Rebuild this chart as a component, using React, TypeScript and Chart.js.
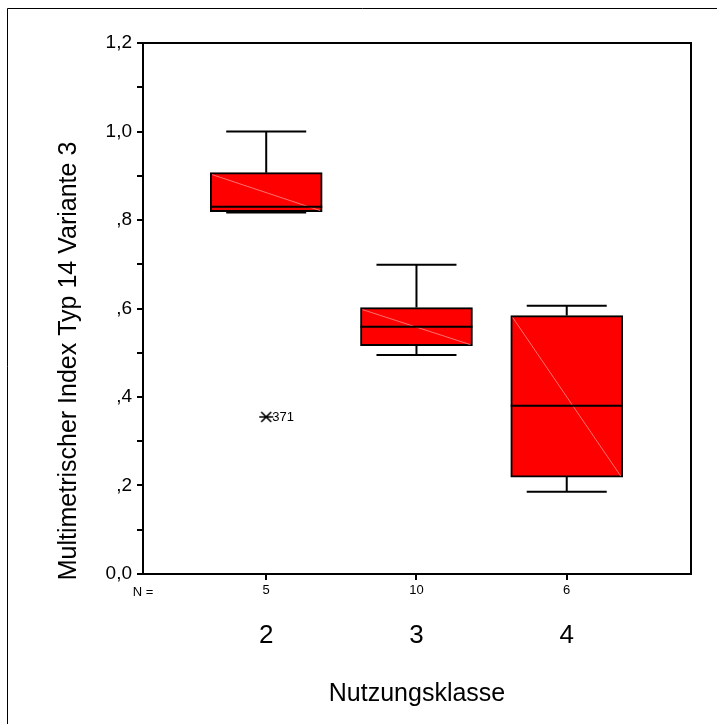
import React, { useEffect, useRef } from "react";
import { Chart, registerables } from "chart.js";

Chart.register(...registerables);

// ---- data ----
const categories = ["2", "3", "4"];
const counts = [5, 10, 6];
const whiskerLow = [0.817, 0.495, 0.186];
const q1 = [0.819, 0.516, 0.219];
const median = [0.830, 0.559, 0.380];
const q3 = [0.907, 0.602, 0.584];
const whiskerHigh = [1.0, 0.699, 0.606];
const outlierCategoryIndex = [0];
const outlierValues = [0.355];
const outlierLabels = ["371"];
const yTickValues = [0, 0.1, 0.2, 0.3, 0.4, 0.5, 0.6, 0.7, 0.8, 0.9, 1.0, 1.1, 1.2];
const yTickLabels = ["0,0", "", ",2", "", ",4", "", ",6", "", ",8", "", "1,0", "", "1,2"];
const yTitle = "Multimetrischer Index Typ 14 Variante 3";
const xTitle = "Nutzungsklasse";

const FONT = "'Liberation Sans', Arial, sans-serif";

function makeAsterisk(): HTMLCanvasElement {
  const c = document.createElement("canvas");
  c.width = 16;
  c.height = 16;
  const g = c.getContext("2d")!;
  g.strokeStyle = "#000";
  g.lineWidth = 1.6;
  g.beginPath();
  g.moveTo(3, 3); g.lineTo(13, 13);
  g.moveTo(13, 3); g.lineTo(3, 13);
  g.moveTo(1, 8); g.lineTo(15, 8);
  g.stroke();
  return c;
}

const extrasPlugin = {
  id: "boxExtras",
  beforeDraw(chart: any) {
    const ctx = chart.ctx;
    ctx.save();
    ctx.fillStyle = "#fff";
    ctx.fillRect(0, 0, chart.width, chart.height);
    ctx.strokeStyle = "#000";
    ctx.lineWidth = 1;
    ctx.beginPath();
    ctx.moveTo(7.5, chart.height);
    ctx.lineTo(7.5, 8.5);
    ctx.lineTo(chart.width, 8.5);
    ctx.stroke();
    ctx.restore();
  },
  afterDatasetsDraw(chart: any) {
    const ctx = chart.ctx;
    const xs = chart.scales.x;
    const ys = chart.scales.y;
    const boxHalf = 56;
    const capHalf = 40;
    ctx.save();
    categories.forEach((_, i) => {
      const x = xs.getPixelForValue(i + 1);
      const yq1 = ys.getPixelForValue(q1[i]);
      const yq3 = ys.getPixelForValue(q3[i]);
      const ymed = ys.getPixelForValue(median[i]);
      const ylo = ys.getPixelForValue(whiskerLow[i]);
      const yhi = ys.getPixelForValue(whiskerHigh[i]);
      // faint diagonal
      ctx.strokeStyle = "rgba(255,140,140,0.8)";
      ctx.lineWidth = 1;
      ctx.beginPath();
      ctx.moveTo(x - boxHalf + 2, yq3 + 2);
      ctx.lineTo(x + boxHalf - 2, yq1 - 1);
      ctx.stroke();
      ctx.strokeStyle = "#000";
      ctx.lineWidth = 2;
      ctx.beginPath();
      ctx.moveTo(x, yq3);
      ctx.lineTo(x, yhi);
      ctx.moveTo(x, yq1);
      ctx.lineTo(x, ylo);
      ctx.moveTo(x - capHalf, yhi);
      ctx.lineTo(x + capHalf, yhi);
      ctx.moveTo(x - capHalf, ylo);
      ctx.lineTo(x + capHalf, ylo);
      ctx.moveTo(x - boxHalf, ymed);
      ctx.lineTo(x + boxHalf, ymed);
      ctx.stroke();
    });
    ctx.fillStyle = "#000";
    ctx.font = `13px ${FONT}`;
    ctx.textAlign = "left";
    ctx.textBaseline = "middle";
    outlierValues.forEach((v, k) => {
      const x = xs.getPixelForValue(outlierCategoryIndex[k] + 1);
      const y = ys.getPixelForValue(v);
      ctx.fillText(outlierLabels[k], x + 6, y + 1);
    });
    ctx.restore();
  },
  afterDraw(chart: any) {
    const ctx = chart.ctx;
    const a = chart.chartArea;
    const xs = chart.scales.x;
    ctx.save();
    ctx.strokeStyle = "#000";
    ctx.lineWidth = 2;
    ctx.strokeRect(a.left, a.top, a.right - a.left, a.bottom - a.top);
    ctx.fillStyle = "#000";
    ctx.font = `13px ${FONT}`;
    ctx.textAlign = "center";
    ctx.textBaseline = "middle";
    ctx.fillText("N =", a.left, a.bottom + 18);
    counts.forEach((n, i) => {
      ctx.fillText(String(n), xs.getPixelForValue(i + 1), a.bottom + 16);
    });
    // y-axis title
    ctx.font = `25px ${FONT}`;
    ctx.translate(69, 361);
    ctx.rotate(-Math.PI / 2);
    ctx.fillText(yTitle, 0, 0);
    ctx.restore();
  },
};

export default function App() {
  const ref = useRef<HTMLCanvasElement | null>(null);

  useEffect(() => {
    if (!ref.current) return;
    const star = makeAsterisk();
    const chart = new Chart(ref.current, {
      type: "bar",
      data: {
        datasets: [
          {
            type: "bar",
            data: categories.map((_, i) => ({ x: i + 1, y: [q1[i], q3[i]] })) as any,
            backgroundColor: "#ff0000",
            borderColor: "#000",
            borderWidth: 2,
            borderSkipped: false,
            barThickness: 112,
          } as any,
          {
            type: "scatter",
            data: outlierValues.map((v, k) => ({ x: outlierCategoryIndex[k] + 1, y: v })),
            pointStyle: star as any,
            showLine: false,
          } as any,
        ],
      },
      options: {
        animation: false,
        responsive: false,
        devicePixelRatio: 1,
        layout: { padding: { top: 43, right: 26, left: 0, bottom: 0 } },
        plugins: {
          legend: { display: false },
          tooltip: { enabled: false },
        },
        scales: {
          x: {
            type: "linear",
            min: 0.18,
            max: 3.827,
            offset: false,
            afterBuildTicks: (s: any) => {
              s.ticks = categories.map((_, i) => ({ value: i + 1 }));
            },
            afterFit: (s: any) => {
              s.height = 150;
            },
            ticks: {
              callback: (v: any) => categories[Math.round(v) - 1] ?? "",
              font: { family: FONT, size: 26 },
              color: "#000",
              padding: 40,
              maxRotation: 0,
              autoSkip: false,
            },
            grid: {
              display: true,
              drawOnChartArea: false,
              drawTicks: true,
              tickLength: 6,
              color: "#000",
              lineWidth: 2,
              offset: false,
            },
            border: { display: true, color: "#000", width: 2 },
            title: {
              display: true,
              text: xTitle,
              font: { family: FONT, size: 25 },
              color: "#000",
              padding: { top: 0, bottom: 15 },
            },
          } as any,
          y: {
            type: "linear",
            min: 0,
            max: 1.2,
            afterBuildTicks: (s: any) => {
              s.ticks = yTickValues.map((v) => ({ value: v }));
            },
            afterFit: (s: any) => {
              s.width = 143;
            },
            ticks: {
              callback: (_v: any, idx: number) => yTickLabels[idx] ?? "",
              font: { family: FONT, size: 19 },
              color: "#000",
              padding: 5,
              autoSkip: false,
            },
            grid: {
              display: true,
              drawOnChartArea: false,
              drawTicks: true,
              tickLength: 6,
              color: "#000",
              lineWidth: 2,
            },
            border: { display: true, color: "#000", width: 2 },
            title: { display: false },
          } as any,
        },
      },
      plugins: [extrasPlugin],
    });
    return () => chart.destroy();
  }, []);

  return (
    <div style={{ position: "absolute", left: 0, top: 0, width: 717, height: 724 }}>
      <canvas ref={ref} width={717} height={724} style={{ width: 717, height: 724, display: "block" }} />
    </div>
  );
}
